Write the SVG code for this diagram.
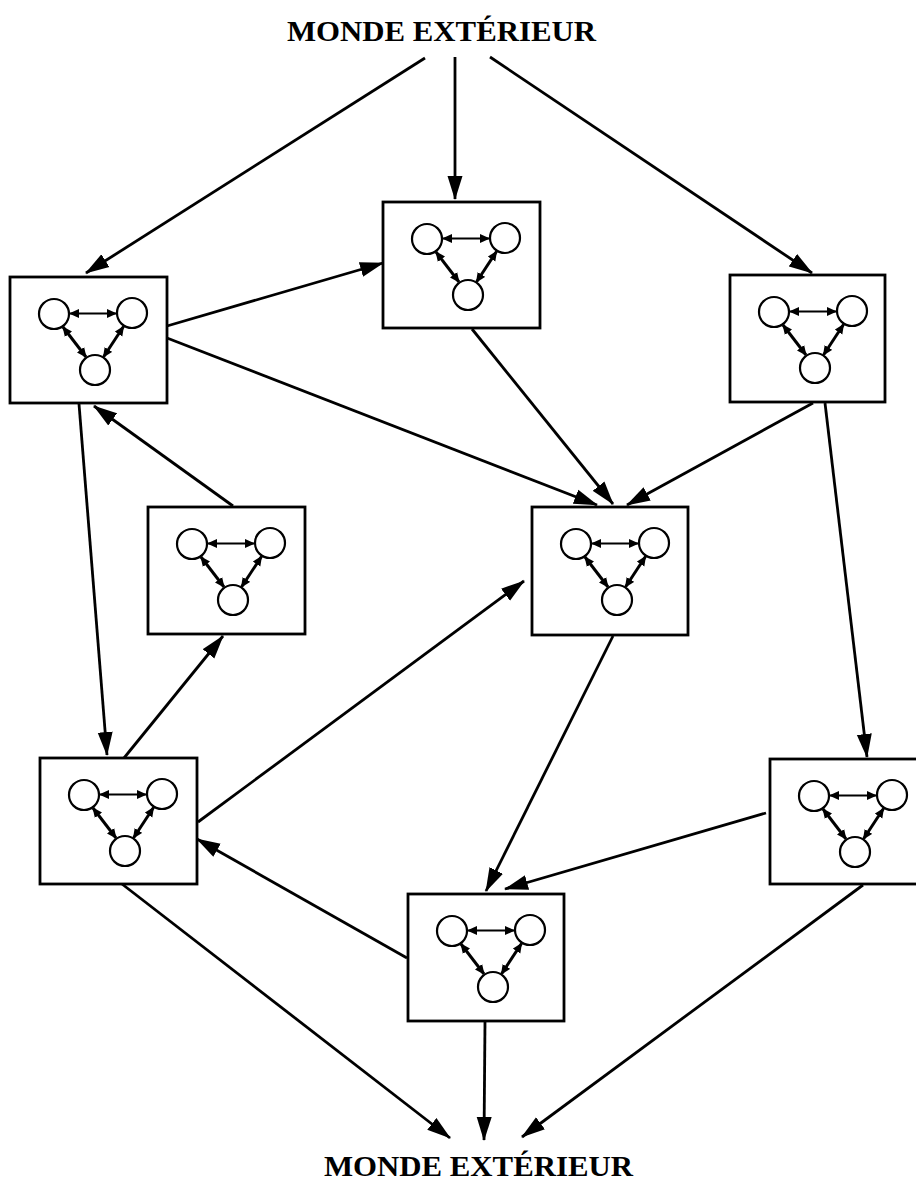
<svg xmlns="http://www.w3.org/2000/svg" width="916" height="1183" viewBox="0 0 916 1183">
<style>
.box{fill:#fff;stroke:#000;stroke-width:2.8}
.c{fill:#fff;stroke:#000;stroke-width:2.2}
.ih{stroke:#000;stroke-width:2;fill:none;marker-start:url(#sa);marker-end:url(#sa)}
.id{stroke:#000;stroke-width:3;fill:none;marker-start:url(#sa);marker-end:url(#sa)}
.e{stroke:#000;stroke-width:2.8;fill:none;marker-end:url(#ba)}
.lbl{font-family:"Liberation Serif","Times New Roman",serif;font-weight:bold;font-size:30px;fill:#000}
</style>
<defs>
<marker id="ba" markerUnits="userSpaceOnUse" markerWidth="26" markerHeight="16" refX="23" refY="8" orient="auto">
<path d="M0,0.5 L24,8 L0,15.5 z" fill="#000"/>
</marker>
<marker id="sa" markerUnits="userSpaceOnUse" markerWidth="12" markerHeight="10" refX="9" refY="5" orient="auto-start-reverse">
<path d="M0,0.5 L10,5 L0,9.5 z" fill="#000"/>
</marker>
<g id="inner">
<circle class="c" cx="44" cy="37" r="15"/>
<circle class="c" cx="122" cy="36" r="15"/>
<circle class="c" cx="85" cy="93" r="15"/>
<line class="ih" x1="60" y1="36.5" x2="106" y2="36.5"/>
<line class="id" x1="53" y1="50" x2="76" y2="80"/>
<line class="id" x1="113.5" y1="49.5" x2="93.5" y2="80"/>
</g>
</defs>
<text class="lbl" x="287" y="41" textLength="309" lengthAdjust="spacingAndGlyphs">MONDE EXTÉRIEUR</text>
<text class="lbl" x="324" y="1176" textLength="309" lengthAdjust="spacingAndGlyphs">MONDE EXTÉRIEUR</text>
<g id="connectors">
<line class="e" x1="425" y1="58" x2="86" y2="273"/>
<line class="e" x1="455" y1="57" x2="455" y2="199"/>
<line class="e" x1="490" y1="57" x2="812" y2="273"/>
<line class="e" x1="167" y1="326" x2="383" y2="263"/>
<line class="e" x1="167" y1="338" x2="597" y2="505"/>
<line class="e" x1="472" y1="329" x2="613" y2="504"/>
<line class="e" x1="813" y1="403" x2="627" y2="505"/>
<line class="e" x1="825" y1="403" x2="867" y2="757"/>
<line class="e" x1="79" y1="404" x2="107" y2="755"/>
<line class="e" x1="233" y1="506" x2="94" y2="406"/>
<line class="e" x1="124" y1="758" x2="223" y2="636"/>
<line class="e" x1="198" y1="822" x2="524" y2="581"/>
<line class="e" x1="613" y1="636" x2="486" y2="891"/>
<line class="e" x1="766" y1="813" x2="505" y2="889"/>
<line class="e" x1="407" y1="958" x2="197" y2="839"/>
<line class="e" x1="122" y1="884" x2="450" y2="1138"/>
<line class="e" x1="485" y1="1022" x2="484" y2="1140"/>
<line class="e" x1="863" y1="885" x2="522" y2="1137"/>
</g>
<g id="n1" transform="translate(383,202)"><rect class="box" width="157" height="126"/><use href="#inner"/></g>
<g id="n2" transform="translate(10,277)"><rect class="box" width="157" height="126"/><use href="#inner"/></g>
<g id="n3" transform="translate(730,275)"><rect class="box" width="155" height="127"/><use href="#inner"/></g>
<g id="n4" transform="translate(148,507)"><rect class="box" width="157" height="127"/><use href="#inner"/></g>
<g id="n5" transform="translate(532,507)"><rect class="box" width="156" height="128"/><use href="#inner"/></g>
<g id="n6" transform="translate(40,758)"><rect class="box" width="157" height="126"/><use href="#inner"/></g>
<g id="n7" transform="translate(770,759)"><rect class="box" width="158" height="125"/><use href="#inner"/></g>
<g id="n8" transform="translate(408,894)"><rect class="box" width="156" height="127"/><use href="#inner"/></g>
</svg>
